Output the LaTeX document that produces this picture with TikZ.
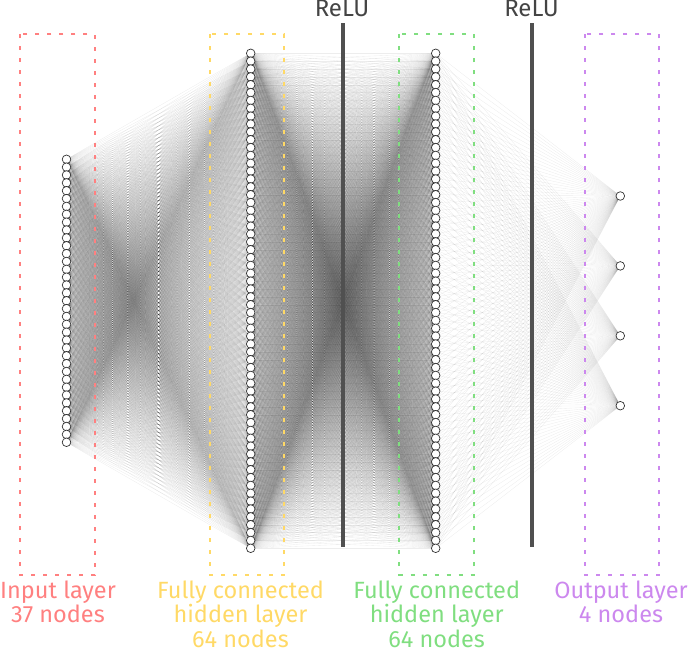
\documentclass[tikz,border=0pt]{standalone}
\usepackage{fontspec}
\setmainfont{Fira Sans}
\definecolor{cin}{RGB}{255,128,128}
\definecolor{chid}{RGB}{255,217,102}
\definecolor{chidb}{RGB}{128,222,128}
\definecolor{cout}{RGB}{204,136,238}
\definecolor{crelu}{RGB}{80,80,80}
\pgfdeclarelayer{bg}
\pgfsetlayers{bg,main}
\begin{document}
\begin{tikzpicture}[x=1pt,y=-1pt,
  neuron/.style={circle,draw=black!80,fill=white,line width=0.7pt,minimum size=8.6pt,inner sep=0pt},
  conn/.style={draw=black,draw opacity=0.07,line width=0.35pt},
  layerbox/.style={dash pattern=on 4pt off 8pt,line width=2pt},
  relubar/.style={draw=crelu,line width=4pt},
  lab/.style={align=center,font=\fontsize{23.5}{24.6}\selectfont,inner sep=0pt},
  relulab/.style={font=\fontsize{24}{25}\selectfont,text=crelu!85!black,inner sep=0pt}]
\useasboundingbox (0,0) rectangle (691,653);
% layer boxes
\draw[layerbox,draw=cin] (20,34.3) rectangle (95,575);
\draw[layerbox,draw=chid] (210,34.3) rectangle (284.3,575);
\draw[layerbox,draw=chidb] (399.3,34.3) rectangle (474,575);
\draw[layerbox,draw=cout] (584.7,34.3) rectangle (659.3,575);
% nodes
\foreach \k in {1,...,37} \node[neuron] (i\k) at (66.5,{159.3+(\k-1)*7.86}) {};
\foreach \k in {1,...,64} \node[neuron] (h\k) at (250.7,{53.3+(\k-1)*7.857}) {};
\foreach \k in {1,...,64} \node[neuron] (g\k) at (435.7,{53.3+(\k-1)*7.857}) {};
\foreach \k in {1,...,4} \node[neuron] (o\k) at (620.3,{196+(\k-1)*69.9}) {};
% connections
\begin{pgfonlayer}{bg}
\foreach \a in {1,...,37} {\foreach \b in {1,...,64} {\draw[conn] (i\a.center) -- (h\b.center);}}
\foreach \a in {1,...,64} {\foreach \b in {1,...,64} {\draw[conn] (h\a.center) -- (g\b.center);}}
\foreach \a in {1,...,64} {\foreach \b in {1,...,4} {\draw[conn] (g\a.center) -- (o\b.center);}}
\end{pgfonlayer}
% ReLU bars
\coordinate (r1t) at (342.7,23);
\coordinate (r1b) at (342.7,546.5);
\coordinate (r2t) at (532,23);
\coordinate (r2b) at (532,546.5);
\draw[relubar] (r1t) -- (r1b);
\draw[relubar] (r2t) -- (r2b);
\node[relulab,anchor=base] (relu1) at (342,16.8) {ReLU};
\node[relulab,anchor=base] (relu2) at (531.5,16.8) {ReLU};
% labels
\node[lab,text=cin,anchor=north] (lin) at (58,580.5) {Input layer\\37 nodes};
\node[lab,text=chid,anchor=north] (lh1) at (240.5,580.5) {Fully connected\\hidden layer\\64 nodes};
\node[lab,text=chidb,anchor=north] (lh2) at (436.7,580.5) {Fully connected\\hidden layer\\64 nodes};
\node[lab,text=cout,anchor=north] (lout) at (621,580.5) {Output layer\\4 nodes};
\end{tikzpicture}
\end{document}
